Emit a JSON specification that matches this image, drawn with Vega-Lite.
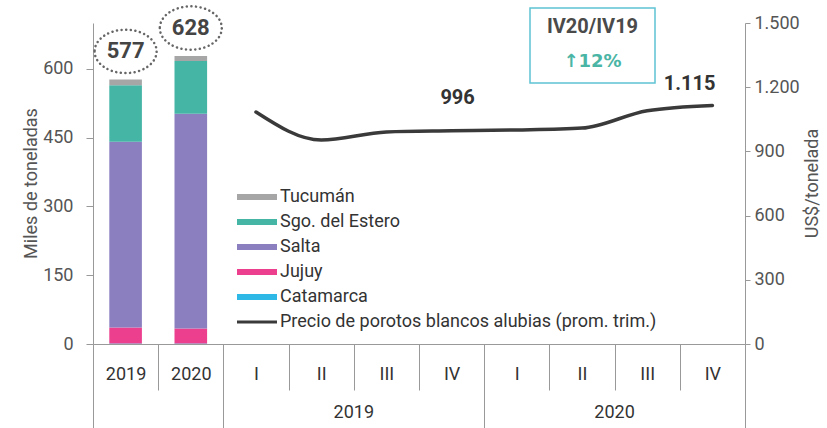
{
  "$schema": "https://vega.github.io/schema/vega-lite/v6.json",
  "width": 652,
  "height": 321,
  "autosize": {"type": "none"},
  "padding": {"left": 93, "top": 23, "right": 82, "bottom": 84},
  "background": "white",
  "datasets": {
    "prod": [
      {"cat": "2019", "prov": "Catamarca", "v": 1},
      {"cat": "2019", "prov": "Jujuy", "v": 35},
      {"cat": "2019", "prov": "Salta", "v": 405},
      {"cat": "2019", "prov": "Sgo. del Estero", "v": 123},
      {"cat": "2019", "prov": "Tucumán", "v": 13},
      {"cat": "2020", "prov": "Catamarca", "v": 1},
      {"cat": "2020", "prov": "Jujuy", "v": 33},
      {"cat": "2020", "prov": "Salta", "v": 468},
      {"cat": "2020", "prov": "Sgo. del Estero", "v": 115},
      {"cat": "2020", "prov": "Tucumán", "v": 11}
    ],
    "totals": [
      {"cat": "2019", "total": 577},
      {"cat": "2020", "total": 628}
    ],
    "price": [
      {"cat": "I 19", "price": 1084},
      {"cat": "II 19", "price": 953},
      {"cat": "III 19", "price": 991},
      {"cat": "IV 19", "price": 996},
      {"cat": "I 20", "price": 1000},
      {"cat": "II 20", "price": 1009},
      {"cat": "III 20", "price": 1090},
      {"cat": "IV 20", "price": 1115}
    ],
    "groups": [
      {"cat": "III 19", "label": "2019"},
      {"cat": "III 20", "label": "2020"}
    ],
    "note": [
      {"cat": "II 20", "title": "IV20/IV19", "change": "↑12%"}
    ]
  },
  "layer": [
    {
      "layer": [
        {
          "data": {"name": "prod"},
          "mark": {"type": "bar", "width": {"band": 0.5}},
          "encoding": {
            "x": {
              "field": "cat", "type": "nominal",
              "scale": {"domain": ["2019", "2020", "I 19", "II 19", "III 19", "IV 19", "I 20", "II 20", "III 20", "IV 20"], "paddingInner": 0, "paddingOuter": 0},
              "axis": {
                "orient": "bottom", "title": null,
                "labelExpr": "isString(datum.value) ? split(datum.value, ' ')[0] : ''",
                "labelAngle": 0, "labelFontSize": 18, "labelColor": "#333",
                "tickBand": "extent",
                "tickSize": {"expr": "(datum.extra || datum.value === '2020' || datum.value === 'IV 19' || datum.value === 'IV 20') ? 84 : 46"},
                "labelPadding": {"expr": "(datum.extra || datum.value === '2020' || datum.value === 'IV 19' || datum.value === 'IV 20') ? -63 : -25"},
                "domainColor": "#999", "tickColor": "#999"
              }
            },
            "y": {
              "field": "v", "type": "quantitative", "stack": "zero",
              "scale": {"domain": [0, 700], "nice": false},
              "axis": {
                "orient": "left", "values": [0, 150, 300, 450, 600],
                "title": "Miles de toneladas",
                "tickSize": 7, "labelPadding": 13,
                "titleX": -62, "titleY": 160, "titleAngle": 270,
                "titleAlign": "center", "titleBaseline": "middle",
                "labelFontSize": 18, "labelColor": "#555",
                "domainColor": "#999", "tickColor": "#999"
              }
            },
            "color": {
              "field": "prov", "type": "nominal",
              "scale": {
                "domain": ["Tucumán", "Sgo. del Estero", "Salta", "Jujuy", "Catamarca", "Precio de porotos blancos alubias (prom. trim.)"],
                "range": ["#a6a6a6", "#45b5a6", "#8b7fc0", "#ec3f8d", "#2db8e6", "#3a3a3a"]
              },
              "legend": {
                "orient": "none", "legendX": 154, "legendY": 164,
                "title": null, "direction": "vertical",
                "labelFontSize": 18, "labelColor": "#333", "labelFont": "Roboto", "labelLimit": 0,
                "symbolSize": 400, "labelOffset": 13, "rowPadding": 6,
                "symbolType": "M-2,-0.3H2V0.3H-2Z", "symbolStrokeWidth": 0,
                "symbolOpacity": 1,
                "encode": {
                  "symbols": {
                    "update": {
                      "shape": {"signal": "datum.value === 'Precio de porotos blancos alubias (prom. trim.)' ? 'M-2,-0.14H2V0.14H-2Z' : 'M-2,-0.3H2V0.3H-2Z'"},
                      "fill": {"scale": "color", "field": "value"},
                      "strokeWidth": {"value": 0}
                    }
                  }
                }
              }
            },
            "order": {"field": "prov", "sort": "ascending"}
          }
        },
        {
          "data": {"name": "totals"},
          "mark": {"type": "text", "dy": -28, "fontSize": 22, "fontWeight": "bold", "color": "#444", "baseline": "middle"},
          "encoding": {
            "x": {"field": "cat", "type": "nominal"},
            "y": {"field": "total", "type": "quantitative"},
            "text": {"field": "total", "type": "quantitative"}
          }
        },
        {
          "data": {"name": "totals"},
          "mark": {
            "type": "point", "shape": "M-1,0A1,0.7,0,1,0,1,0A1,0.7,0,1,0,-1,0Z",
            "size": 3844, "filled": false, "opacity": 1,
            "stroke": "#666", "strokeWidth": 2.5, "strokeDash": [0.1, 4.5], "strokeCap": "round",
            "yOffset": -28
          },
          "encoding": {
            "x": {"field": "cat", "type": "nominal"},
            "y": {"field": "total", "type": "quantitative"}
          }
        },
        {
          "data": {"name": "groups"},
          "mark": {"type": "text", "fontSize": 18, "color": "#333", "baseline": "middle"},
          "encoding": {
            "x": {"field": "cat", "type": "nominal", "bandPosition": 0},
            "y": {"datum": -150, "type": "quantitative"},
            "text": {"field": "label", "type": "nominal"}
          }
        }
      ]
    },
    {
      "layer": [
        {
          "data": {"name": "price"},
          "mark": {"type": "line", "interpolate": "monotone", "strokeWidth": 3.5, "strokeCap": "round"},
          "encoding": {
            "x": {"field": "cat", "type": "nominal"},
            "y": {
              "field": "price", "type": "quantitative",
              "scale": {"domain": [0, 1500], "nice": false},
              "axis": {
                "orient": "right", "values": [0, 300, 600, 900, 1200, 1500],
                "format": ",d", "title": "US$/tonelada",
                "tickSize": 5, "labelPadding": 4,
                "titleX": 67, "titleY": 160, "titleAngle": 270,
                "titleAlign": "center", "titleBaseline": "middle",
                "labelFontSize": 18, "labelColor": "#555",
                "domainColor": "#999", "tickColor": "#999"
              }
            },
            "color": {"datum": "Precio de porotos blancos alubias (prom. trim.)", "type": "nominal"}
          }
        },
        {
          "data": {"name": "price"},
          "transform": [{"filter": "datum.cat === 'IV 19'"}],
          "mark": {"type": "text", "dy": -33, "dx": 6, "fontSize": 20, "fontWeight": "bold", "color": "#333", "baseline": "middle"},
          "encoding": {
            "x": {"field": "cat", "type": "nominal"},
            "y": {"field": "price", "type": "quantitative"},
            "text": {"field": "price", "type": "quantitative", "format": ",d"}
          }
        },
        {
          "data": {"name": "price"},
          "transform": [{"filter": "datum.cat === 'IV 20'"}],
          "mark": {"type": "text", "dy": -21, "dx": 3, "align": "right", "fontSize": 20, "fontWeight": "bold", "color": "#333", "baseline": "middle"},
          "encoding": {
            "x": {"field": "cat", "type": "nominal"},
            "y": {"field": "price", "type": "quantitative"},
            "text": {"field": "price", "type": "quantitative", "format": ",d"}
          }
        },
        {
          "data": {"name": "note"},
          "mark": {
            "type": "point", "shape": "M-1,-0.6H1V0.6H-1Z", "size": 15625,
            "filled": false, "opacity": 1, "stroke": "#5ec4d4", "strokeWidth": 1.5,
            "xOffset": 10.5
          },
          "encoding": {
            "x": {"field": "cat", "type": "nominal"},
            "y": {"datum": 1395, "type": "quantitative"}
          }
        },
        {
          "data": {"name": "note"},
          "mark": {"type": "text", "dx": 10.5, "fontSize": 20, "fontWeight": "bold", "color": "#4a4a4a", "baseline": "middle"},
          "encoding": {
            "x": {"field": "cat", "type": "nominal"},
            "y": {"datum": 1479, "type": "quantitative"},
            "text": {"field": "title", "type": "nominal"}
          }
        },
        {
          "data": {"name": "note"},
          "mark": {"type": "text", "dx": 10.5, "font": "DejaVu Sans", "fontSize": 18, "fontWeight": "bold", "color": "#4bb5a5", "baseline": "middle"},
          "encoding": {
            "x": {"field": "cat", "type": "nominal"},
            "y": {"datum": 1318, "type": "quantitative"},
            "text": {"field": "change", "type": "nominal"}
          }
        }
      ]
    }
  ],
  "resolve": {"scale": {"y": "independent"}},
  "config": {
    "view": {"stroke": null},
    "font": "Roboto",
    "locale": {"number": {"decimal": ",", "thousands": ".", "grouping": [3], "currency": ["$", ""]}},
    "axis": {
      "labelFont": "Roboto", "titleFont": "Roboto", "titleFontSize": 18,
      "titleColor": "#555", "titleFontWeight": "normal", "grid": false
    }
  }
}
